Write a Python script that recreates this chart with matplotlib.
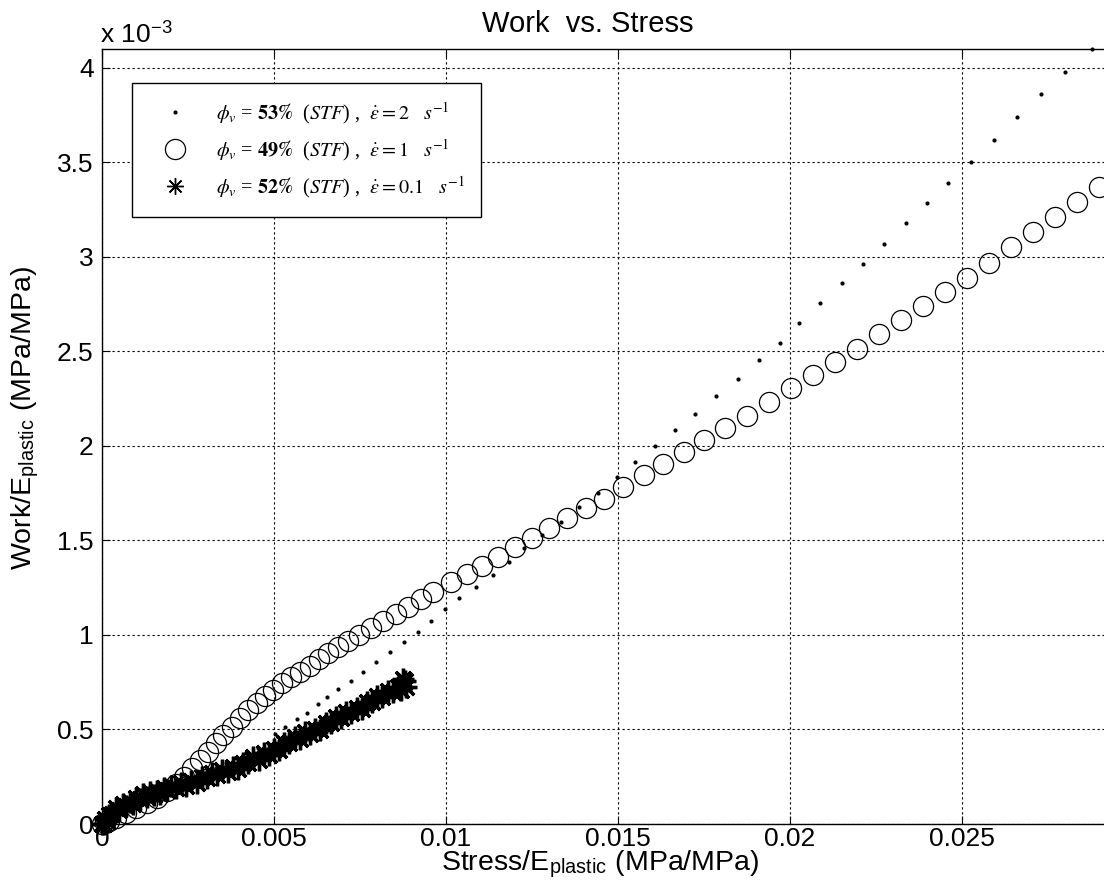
import matplotlib
matplotlib.use('Agg')
import matplotlib.pyplot as plt
from matplotlib.ticker import FuncFormatter

plt.rcParams['font.family'] = ['Liberation Sans', 'DejaVu Sans']
plt.rcParams['mathtext.fontset'] = 'stix'

# phi = 53 %, strain rate 2 1/s  (y values in units of 1e-3)
dot_x = [0, 0.0003, 0.0006, 0.0009, 0.0012, 0.0015, 0.0018, 0.0021, 0.0024,
         0.0027, 0.0030, 0.0033, 0.0036, 0.0039, 0.0042, 0.00454, 0.00503,
         0.00532, 0.00567, 0.00596, 0.00628, 0.00654, 0.00686, 0.00724,
         0.00759, 0.00797, 0.00837, 0.00878, 0.00919, 0.00956, 0.00997,
         0.01038, 0.01087, 0.01137, 0.01183, 0.01227, 0.01279, 0.01334,
         0.01387, 0.01442, 0.01497, 0.0155, 0.01608, 0.01666, 0.01724,
         0.01785, 0.01849, 0.0191, 0.01971, 0.02026, 0.02088, 0.0215,
         0.02212, 0.02274, 0.02336, 0.02398, 0.02459, 0.02526, 0.02593,
         0.0266, 0.0273, 0.0280, 0.02878]
dot_y = [0, 0.030, 0.058, 0.087, 0.115, 0.142, 0.168, 0.193, 0.218, 0.243,
         0.268, 0.295, 0.322, 0.348, 0.374, 0.400, 0.476, 0.513, 0.556,
         0.587, 0.635, 0.672, 0.714, 0.757, 0.804, 0.857, 0.910, 0.963,
         1.016, 1.074, 1.135, 1.196, 1.254, 1.317, 1.386, 1.460, 1.530,
         1.600, 1.677, 1.750, 1.835, 1.915, 2.000, 2.085, 2.170, 2.265,
         2.355, 2.455, 2.545, 2.650, 2.755, 2.860, 2.965, 3.070, 3.180,
         3.285, 3.390, 3.500, 3.620, 3.740, 3.860, 3.980, 4.100]

# phi = 49 %, strain rate 1 1/s
circ_x = [0, 0.0001, 0.0002, 0.0004, 0.0007, 0.0010, 0.0013, 0.0016, 0.0019,
          0.00215, 0.00238, 0.00262, 0.00285, 0.00308, 0.00331, 0.00352,
          0.00378, 0.00401, 0.00424, 0.00451, 0.00474, 0.00497, 0.00523,
          0.00549, 0.00576, 0.00605, 0.00631, 0.00657, 0.00686, 0.00715,
          0.00747, 0.00782, 0.00817, 0.00855, 0.0089, 0.00927, 0.00962,
          0.01015, 0.01061, 0.01105, 0.01151, 0.0120, 0.0125, 0.0130,
          0.01352, 0.01407, 0.01459, 0.01515, 0.01576, 0.01631, 0.01692,
          0.0175, 0.01811, 0.01875, 0.01939, 0.02003, 0.02067, 0.02131,
          0.02195, 0.02259, 0.02323, 0.02387, 0.02451, 0.02515, 0.02579,
          0.02643, 0.02707, 0.02771, 0.02835, 0.02899]
circ_y = [0, 0.006, 0.015, 0.032, 0.058, 0.085, 0.112, 0.140, 0.175, 0.212,
          0.249, 0.296, 0.339, 0.381, 0.429, 0.471, 0.513, 0.561, 0.603,
          0.640, 0.677, 0.709, 0.746, 0.778, 0.804, 0.836, 0.873, 0.905,
          0.937, 0.968, 1.000, 1.037, 1.074, 1.111, 1.148, 1.190, 1.228,
          1.280, 1.323, 1.365, 1.413, 1.466, 1.513, 1.566, 1.619, 1.672,
          1.720, 1.783, 1.847, 1.905, 1.968, 2.032, 2.095, 2.159, 2.233,
          2.307, 2.375, 2.445, 2.515, 2.590, 2.665, 2.740, 2.815, 2.890,
          2.970, 3.050, 3.130, 3.210, 3.290, 3.370]

# phi = 52 %, strain rate 0.1 1/s (noisy, densely sampled)
star_x = [0, 0.00005, 0.0001, 0.00015, 0.0002, 0.0003, 0.0004, 0.0005,
          0.0006, 0.0007, 0.0008, 0.0009, 0.0010, 0.0011, 0.0012, 0.0013,
          0.0014, 0.0015, 0.0016, 0.0017, 0.0018, 0.0019, 0.0020, 0.00215,
          0.0023, 0.00245, 0.0026, 0.00275, 0.0029, 0.00305, 0.0032,
          0.00335, 0.0035, 0.00365, 0.0038, 0.00395, 0.0041, 0.00425,
          0.0044, 0.00455, 0.0047, 0.00485, 0.0050, 0.00515, 0.0053,
          0.00545, 0.0056, 0.00575, 0.0059, 0.00605, 0.0062, 0.00635,
          0.0065, 0.00665, 0.0068, 0.00695, 0.0071, 0.00725, 0.0074,
          0.00755, 0.0077, 0.00785, 0.0080, 0.00815, 0.0083, 0.00845,
          0.0086, 0.0087, 0.0088, 0.00875, 0.00885]
star_y = [0, 0.000, 0.025, 0.016, 0.049, 0.052, 0.084, 0.075, 0.106, 0.094,
          0.118, 0.107, 0.138, 0.132, 0.157, 0.142, 0.168, 0.152, 0.173,
          0.160, 0.188, 0.180, 0.202, 0.188, 0.216, 0.202, 0.226, 0.216,
          0.248, 0.244, 0.271, 0.258, 0.288, 0.276, 0.301, 0.292, 0.325,
          0.323, 0.352, 0.341, 0.373, 0.363, 0.395, 0.394, 0.430, 0.430,
          0.461, 0.452, 0.485, 0.476, 0.504, 0.498, 0.534, 0.535, 0.567,
          0.559, 0.593, 0.585, 0.614, 0.609, 0.646, 0.647, 0.679, 0.671,
          0.705, 0.697, 0.726, 0.710, 0.755, 0.765, 0.725]

labels = [r'$\phi_v$ = $\mathbf{53\%}$  ($\mathit{STF}$) ,  $\dot{\varepsilon} = 2$   $s^{-1}$',
          r'$\phi_v$ = $\mathbf{49\%}$  ($\mathit{STF}$) ,  $\dot{\varepsilon} = 1$   $s^{-1}$',
          r'$\phi_v$ = $\mathbf{52\%}$  ($\mathit{STF}$) ,  $\dot{\varepsilon} = 0.1$   $s^{-1}$']

xticks = [0, 0.005, 0.01, 0.015, 0.02, 0.025]
yticks = [0, 0.5, 1, 1.5, 2, 2.5, 3, 3.5, 4]

W, H = 1104, 892
fig = plt.figure(figsize=(W / 100, H / 100), dpi=100)
# axes run a little past the right edge of the figure
ax = fig.add_axes([102 / W, (H - 824) / H, (1134 - 102) / W, (824 - 49) / H])

h1, = ax.plot(dot_x, dot_y, 'o', ms=3, color='k', mew=0, clip_on=False)
h2, = ax.plot(circ_x, circ_y, 'o', ms=14.5, mfc='none', mec='k', mew=0.9,
              clip_on=False)
h3, = ax.plot(star_x, star_y, ls='none', marker=(8, 2, 0), ms=15.5, mec='k',
              mew=2.4, clip_on=False)

ax.set_xlim(0, 0.03)
ax.set_ylim(0, 4.1)
ax.set_xticks(xticks)
ax.set_yticks(yticks)
fmt = FuncFormatter(lambda v, p: '%g' % v)
ax.xaxis.set_major_formatter(fmt)
ax.yaxis.set_major_formatter(fmt)
ax.tick_params(direction='in', length=6, width=0.8, labelsize=19,
               top=True, right=True)
ax.tick_params(axis='x', pad=2)
ax.tick_params(axis='y', pad=6)

ax.set_axisbelow(True)
ax.grid(True, color='k', linestyle=(0, (2, 2.5)), linewidth=0.8)
for s in ax.spines.values():
    s.set_linewidth(1.0)

leg = ax.legend([h1, h2, h3], labels, loc='upper left',
                bbox_to_anchor=(0.029, 0.956), borderaxespad=0, numpoints=1,
                fancybox=False, edgecolor='k', framealpha=1,
                prop={'family': 'Liberation Serif', 'size': 14.5},
                handlelength=2.6, handletextpad=0.7, labelspacing=0.55,
                borderpad=0.85)
leg.get_frame().set_linewidth(1.0)
# legend asterisk drawn thinner than the plotted band
leg.legend_handles[2].set_markersize(12)
leg.legend_handles[2].set_markeredgewidth(1.0)

fig.text(588 / W, 1 - 32 / H, 'Work  vs. Stress', fontsize=21,
         ha='center', va='baseline')
fig.text(100 / W, 1 - 43 / H, r'x 10$^{\mathregular{-3}}$', fontsize=19,
         ha='left', va='baseline')
fig.text(600 / W, 1 - 870 / H, r'Stress/E$_{\mathregular{plastic}}$ (MPa/MPa)',
         fontsize=20.5, ha='center', va='baseline')
fig.text(25 / W, 1 - 418 / H, r'Work/E$_{\mathregular{plastic}}$ (MPa/MPa)',
         fontsize=20.5, ha='center', va='center', rotation=90)

fig.savefig('out.png', dpi=100)
